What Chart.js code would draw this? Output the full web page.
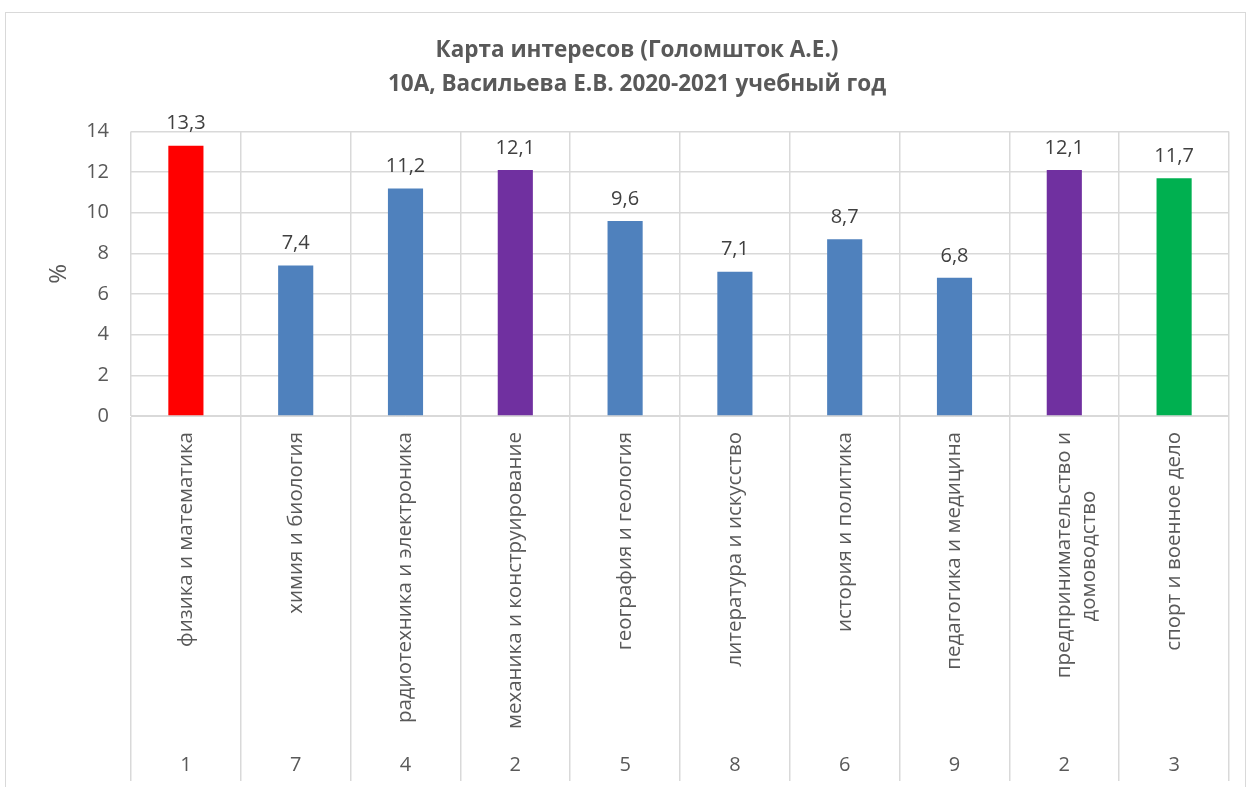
<!DOCTYPE html>
<html>
<head>
<meta charset="utf-8">
<script src="https://cdn.jsdelivr.net/npm/chart.js@4/dist/chart.umd.min.js"></script>
<style>
  html, body { margin: 0; padding: 0; background: #fff; overflow: hidden; }
  #wrap { position: relative; width: 1247px; height: 787px; }
  #frame { position: absolute; left: 5px; top: 12px; width: 1239px; height: 800px; border: 1px solid #d9d9d9; pointer-events: none; }
</style>
</head>
<body>
<div id="wrap">
  <canvas id="interestChart" width="1247" height="787"></canvas>
  <div id="frame"></div>
</div>
<script>
const categories = [
  'физика и математика',
  'химия и биология',
  'радиотехника и электроника',
  'механика и конструирование',
  'география и геология',
  'литература и искусство',
  'история и политика',
  'педагогика и медицина',
  ['предпринимательство и', 'домоводство\u00a0\u00a0\u00a0\u00a0\u00a0\u00a0\u00a0\u00a0\u00a0\u00a0\u00a0'],
  'спорт и военное дело'
];
const percents = [13.3, 7.4, 11.2, 12.1, 9.6, 7.1, 8.7, 6.8, 12.1, 11.7];
const ranks = ['1', '7', '4', '2', '5', '8', '6', '9', '2', '3'];
const barColors = ['#ff0000', '#4f81bd', '#4f81bd', '#7030a0', '#4f81bd', '#4f81bd', '#4f81bd', '#4f81bd', '#7030a0', '#00b050'];
const yTicks = [0, 2, 4, 6, 8, 10, 12, 14];

const FONT = "'Open Sans', 'DejaVu Sans', sans-serif";
const AXIS_H = 365;
const LABEL_GAP = 16;

// values above the bars, comma as decimal sign
const valueLabels = {
  id: 'valueLabels',
  afterDatasetsDraw(chart) {
    const ctx = chart.ctx;
    const meta = chart.getDatasetMeta(0);
    ctx.save();
    ctx.font = '20px ' + FONT;
    ctx.fillStyle = '#404040';
    ctx.textAlign = 'center';
    ctx.textBaseline = 'bottom';
    meta.data.forEach((bar, i) => {
      ctx.fillText(percents[i].toFixed(1).replace('.', ','), bar.x, bar.y - 12);
    });
    ctx.restore();
  }
};

// second row of the category axis (rank numbers)
const rankRow = {
  id: 'rankRow',
  afterDraw(chart) {
    const ctx = chart.ctx;
    const xs = chart.scales.x;
    ctx.save();
    ctx.font = '20px ' + FONT;
    ctx.fillStyle = '#595959';
    ctx.textAlign = 'center';
    ctx.textBaseline = 'middle';
    ranks.forEach((r, i) => {
      ctx.fillText(r, xs.getPixelForValue(i), chart.chartArea.bottom + 349);
    });
    ctx.restore();
  }
};

const ctx = document.getElementById('interestChart').getContext('2d');
new Chart(ctx, {
  type: 'bar',
  data: {
    labels: categories,
    datasets: [{
      data: percents,
      backgroundColor: barColors,
      borderWidth: 0,
      barPercentage: 0.32,
      categoryPercentage: 1
    }]
  },
  options: {
    responsive: false,
    animation: false,
    layout: { padding: { top: 34, left: 45, right: 18, bottom: 6 } },
    plugins: {
      legend: { display: false },
      tooltip: { enabled: false },
      title: {
        display: true,
        text: ['Карта интересов (Голомшток А.Е.)', '10А, Васильева Е.В. 2020-2021 учебный год'],
        color: '#595959',
        font: { family: FONT, size: 22.5, weight: 'bold', lineHeight: 1.5 },
        padding: { top: 0, bottom: 30 }
      }
    },
    scales: {
      x: {
        afterFit(scale) { scale.height = AXIS_H; },
        grid: {
          offset: true,
          color: '#d9d9d9',
          lineWidth: 1.5,
          drawTicks: true,
          tickLength: AXIS_H
        },
        border: { display: true, color: '#d9d9d9' },
        ticks: {
          autoSkip: false,
          minRotation: 90,
          maxRotation: 90,
          padding: LABEL_GAP - AXIS_H,
          color: '#595959',
          font: { family: FONT, size: 20.5 }
        }
      },
      y: {
        min: 0,
        max: 14,
        afterBuildTicks(scale) { scale.ticks = yTicks.map(v => ({ value: v })); },
        afterFit(scale) { scale.width = 86; },
        grid: { color: '#d9d9d9', lineWidth: 1.5, drawTicks: false },
        border: { display: false },
        title: {
          display: true,
          text: '%',
          color: '#595959',
          font: { family: FONT, size: 24 },
          padding: { top: 0, bottom: 0 }
        },
        ticks: {
          padding: 22,
          color: '#595959',
          font: { family: FONT, size: 20 }
        }
      }
    }
  },
  plugins: [valueLabels, rankRow]
});
</script>
</body>
</html>
